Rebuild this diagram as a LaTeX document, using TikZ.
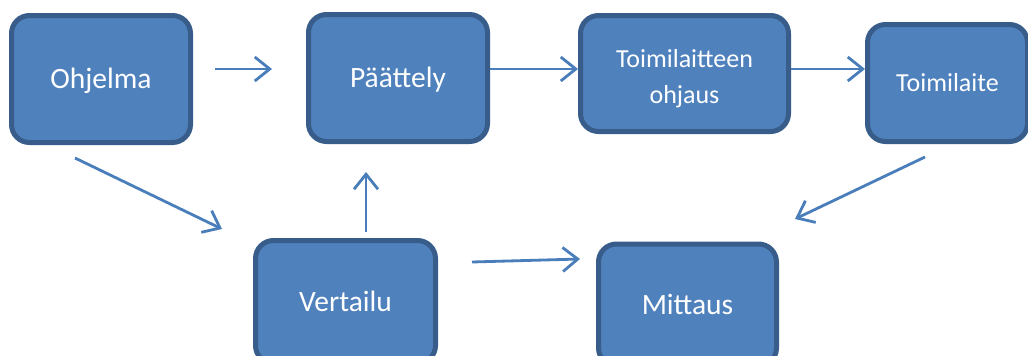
\documentclass[tikz,border=0pt]{standalone}
\usepackage{fontspec}
\setmainfont{Carlito}
\usetikzlibrary{arrows.meta}
\definecolor{boxfill}{HTML}{4F81BD}
\definecolor{boxline}{HTML}{385D8A}
\definecolor{arrcol}{HTML}{4A7EBB}
\begin{document}
\begin{tikzpicture}[x=1pt,y=-1pt,
  blk/.style={draw=boxline, fill=boxfill, line width=5pt, rounded corners=18pt,
    text=white, align=center, inner sep=0pt,
    font=\fontsize{29.5}{35}\selectfont, text height=25pt, text depth=6pt},
  blksmall/.style={blk, font=\fontsize{26}{36}\selectfont, text height=22.2pt, text depth=6pt},
  conn/.style={draw=arrcol, line width=2.8pt, -{Straight Barb[length=15pt,width=24pt]}}]
\useasboundingbox (0,0) rectangle (1028,356);
\clip (0,0) rectangle (1028,356);
\fill[white] (0,0) rectangle (1028,356);
% boxes
\node[blk, minimum width=179pt, minimum height=127pt] (ohj) at (101,79) {Ohjelma};
\node[blk, minimum width=179pt, minimum height=127pt] (paa) at (398,78) {Päättely};
\node[blksmall, minimum width=208pt, minimum height=116pt, text height=0pt, text depth=13pt] (tohj) at (684.5,73.5)
  {\smash{\begin{tabular}[t]{@{}c@{}}Toimilaitteen\\ohjaus\end{tabular}}};
\node[blksmall, minimum width=160pt, minimum height=117pt] (toim) at (947.5,83) {Toimilaite};
\node[blk, minimum width=180pt, minimum height=123pt] (ver) at (345.5,302) {Vertailu};
\node[blk, minimum width=178pt, minimum height=122pt] (mit) at (687.5,305) {Mittaus};
% free arrow ends
\coordinate (a1s) at (215,69);  \coordinate (a1e) at (272,69);
\coordinate (a2s) at (490,69);  \coordinate (a2e) at (578,69);
\coordinate (a3s) at (791,69);  \coordinate (a3e) at (865,69);
\coordinate (a4s) at (75,158);  \coordinate (a4e) at (222,229);
\coordinate (a5s) at (366,232); \coordinate (a5e) at (366,172);
\coordinate (a6s) at (472,262); \coordinate (a6e) at (580,259);
\coordinate (a7s) at (925,157); \coordinate (a7e) at (795,219);
\draw[conn] (a1s) -- (a1e);
\draw[conn] (a2s) -- (a2e);
\draw[conn] (a3s) -- (a3e);
\draw[conn] (a4s) -- (a4e);
\draw[conn] (a5s) -- (a5e);
\draw[conn] (a6s) -- (a6e);
\draw[conn] (a7s) -- (a7e);
\end{tikzpicture}
\end{document}
